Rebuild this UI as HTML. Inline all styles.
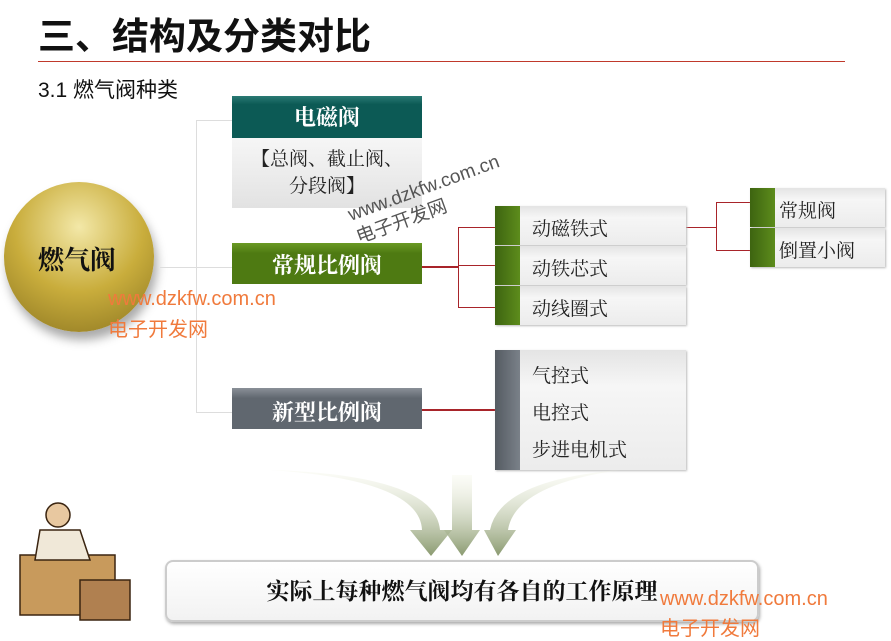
<!DOCTYPE html>
<html><head><meta charset="utf-8"><style>
body{margin:0;width:891px;height:632px;background:#fff;position:relative;overflow:hidden;font-family:"Liberation Sans","Noto Sans CJK SC",sans-serif}
.a{position:absolute}
.t{font-weight:bold;color:#fff;text-align:center;font-size:22px;font-family:"Liberation Serif","Noto Serif CJK SC",serif}
.item{position:absolute;background:linear-gradient(#e4e4e4,#f6f6f6 30%,#ececec);box-shadow:1px 1px 2px #bbb;font-size:19px;color:#222;font-family:"Liberation Serif","Noto Serif CJK SC",serif}
.tab{position:absolute;left:0;top:0;bottom:0;width:25px;background:linear-gradient(90deg,#3d6410,#5d8c1c)}
.l{position:absolute;background:#ddd}
.r{position:absolute;background:#a8242a}
.wm{position:absolute;color:#f07a3c;font-size:20px}
</style></head><body>
<div class="a" style="left:38px;top:6px;font-size:37px;font-weight:bold;color:#111">三、结构及分类对比</div>
<div class="a" style="left:38px;top:61px;width:807px;height:1px;background:#c0392b"></div>
<div class="a" style="left:38px;top:74px;font-size:21px;color:#111">3.1 燃气阀种类</div>

<div class="a" style="left:4px;top:182px;width:150px;height:150px;border-radius:50%;background:radial-gradient(circle at 50% 30%,#f3e8a8,#c9ad3c 50%,#8a7420 100%);box-shadow:3px 8px 10px #aaa"></div>
<div class="a" style="left:38px;top:240px;font-size:26px;font-weight:bold;color:#111;font-family:'Liberation Serif','Noto Serif CJK SC',serif">燃气阀</div>

<div class="l" style="left:196px;top:120px;width:1px;height:292px"></div>
<div class="l" style="left:160px;top:267px;width:72px;height:1px"></div>
<div class="l" style="left:196px;top:120px;width:36px;height:1px"></div>
<div class="l" style="left:196px;top:412px;width:36px;height:1px"></div>

<div class="a t" style="left:232px;top:96px;width:190px;height:42px;line-height:44px;background:linear-gradient(#2a7a74,#0c5a55 20%)">电磁阀</div>
<div class="a" style="left:232px;top:138px;width:190px;height:70px;background:linear-gradient(#f6f6f6,#e2e2e2);font-size:19px;color:#222;text-align:center;line-height:27px;padding-top:8px;box-sizing:border-box;font-family:'Liberation Serif','Noto Serif CJK SC',serif">【总阀、截止阀、<br>分段阀】</div>
<div class="a t" style="left:232px;top:243px;width:190px;height:41px;line-height:46px;background:linear-gradient(#6a9a24,#4e7a12 25%)">常规比例阀</div>
<div class="a t" style="left:232px;top:388px;width:190px;height:41px;line-height:50px;background:linear-gradient(#8a9098,#60676f 25%)">新型比例阀</div>

<div class="r" style="left:422px;top:266px;width:36px;height:2px"></div>
<div class="r" style="left:458px;top:227px;width:1px;height:80px"></div>
<div class="r" style="left:458px;top:227px;width:37px;height:1px"></div>
<div class="r" style="left:458px;top:265px;width:37px;height:1px"></div>
<div class="r" style="left:458px;top:307px;width:37px;height:1px"></div>
<div class="r" style="left:686px;top:227px;width:30px;height:1px"></div>
<div class="r" style="left:716px;top:202px;width:1px;height:48px"></div>
<div class="r" style="left:716px;top:202px;width:34px;height:1px"></div>
<div class="r" style="left:716px;top:250px;width:34px;height:1px"></div>
<div class="r" style="left:422px;top:409px;width:73px;height:2px"></div>

<div class="item" style="left:495px;top:206px;width:191px;height:39px"><div class="tab"></div><span class="a" style="left:37px;top:8px">动磁铁式</span></div>
<div class="item" style="left:495px;top:246px;width:191px;height:39px"><div class="tab"></div><span class="a" style="left:37px;top:8px">动铁芯式</span></div>
<div class="item" style="left:495px;top:286px;width:191px;height:39px"><div class="tab"></div><span class="a" style="left:37px;top:8px">动线圈式</span></div>
<div class="item" style="left:750px;top:188px;width:135px;height:39px"><div class="tab"></div><span class="a" style="left:29px;top:8px">常规阀</span></div>
<div class="item" style="left:750px;top:228px;width:135px;height:39px"><div class="tab"></div><span class="a" style="left:29px;top:8px">倒置小阀</span></div>
<div class="item" style="left:495px;top:350px;width:191px;height:120px"><div class="tab" style="background:linear-gradient(90deg,#555b62,#7a8189)"></div><span class="a" style="left:37px;top:8px;line-height:37px">气控式<br>电控式<br>步进电机式</span></div>

<svg class="a" style="left:0;top:0" width="891" height="632">
<defs><linearGradient id="g" x1="0" y1="0" x2="0" y2="1"><stop offset="0" stop-color="#f4f6e6" stop-opacity=".3"/><stop offset="1" stop-color="#8a9a70"/></linearGradient></defs>
<path d="M270 470 Q420 480 422 530 L410 530 L431 556 L452 530 L440 530 Q435 475 270 470Z" fill="url(#g)"/>
<path d="M452 475 L452 530 L444 530 L462 556 L480 530 L472 530 L472 475Z" fill="url(#g)"/>
<path d="M620 470 Q500 480 490 530 L484 530 L498 556 L516 530 L508 530 Q515 485 620 470Z" fill="url(#g)"/>
<g fill="#8a5a2a" stroke="#3a2410" stroke-width="1.5">
<rect x="20" y="555" width="95" height="60" fill="#c89a5c"/>
<rect x="80" y="580" width="50" height="40" fill="#b08050"/>
<circle cx="58" cy="515" r="12" fill="#e8c8a0"/>
<path d="M40 530 L80 530 L90 560 L35 560Z" fill="#f0e8d8"/>
</g>
</svg>

<div class="a" style="left:165px;top:560px;width:594px;height:62px;border:2px solid #ccc;border-radius:8px;box-sizing:border-box;background:linear-gradient(#fff,#f2f2f2);box-shadow:1px 2px 3px #aaa;text-align:center;line-height:60px;font-size:23px;font-weight:bold;color:#111;font-family:'Liberation Serif','Noto Serif CJK SC',serif">实际上每种燃气阀均有各自的工作原理</div>

<div class="wm" style="left:108px;top:288px">www.dzkfw.com.cn</div>
<div class="wm" style="left:108px;top:313px">电子开发网</div>
<div class="wm" style="left:660px;top:588px">www.dzkfw.com.cn</div>
<div class="wm" style="left:660px;top:612px">电子开发网</div>
<div class="a" style="left:345px;top:205px;color:#555;font-size:19px;transform:rotate(-20deg);transform-origin:left top;line-height:24px">www.dzkfw.com.cn<br>电子开发网</div>
</body></html>
